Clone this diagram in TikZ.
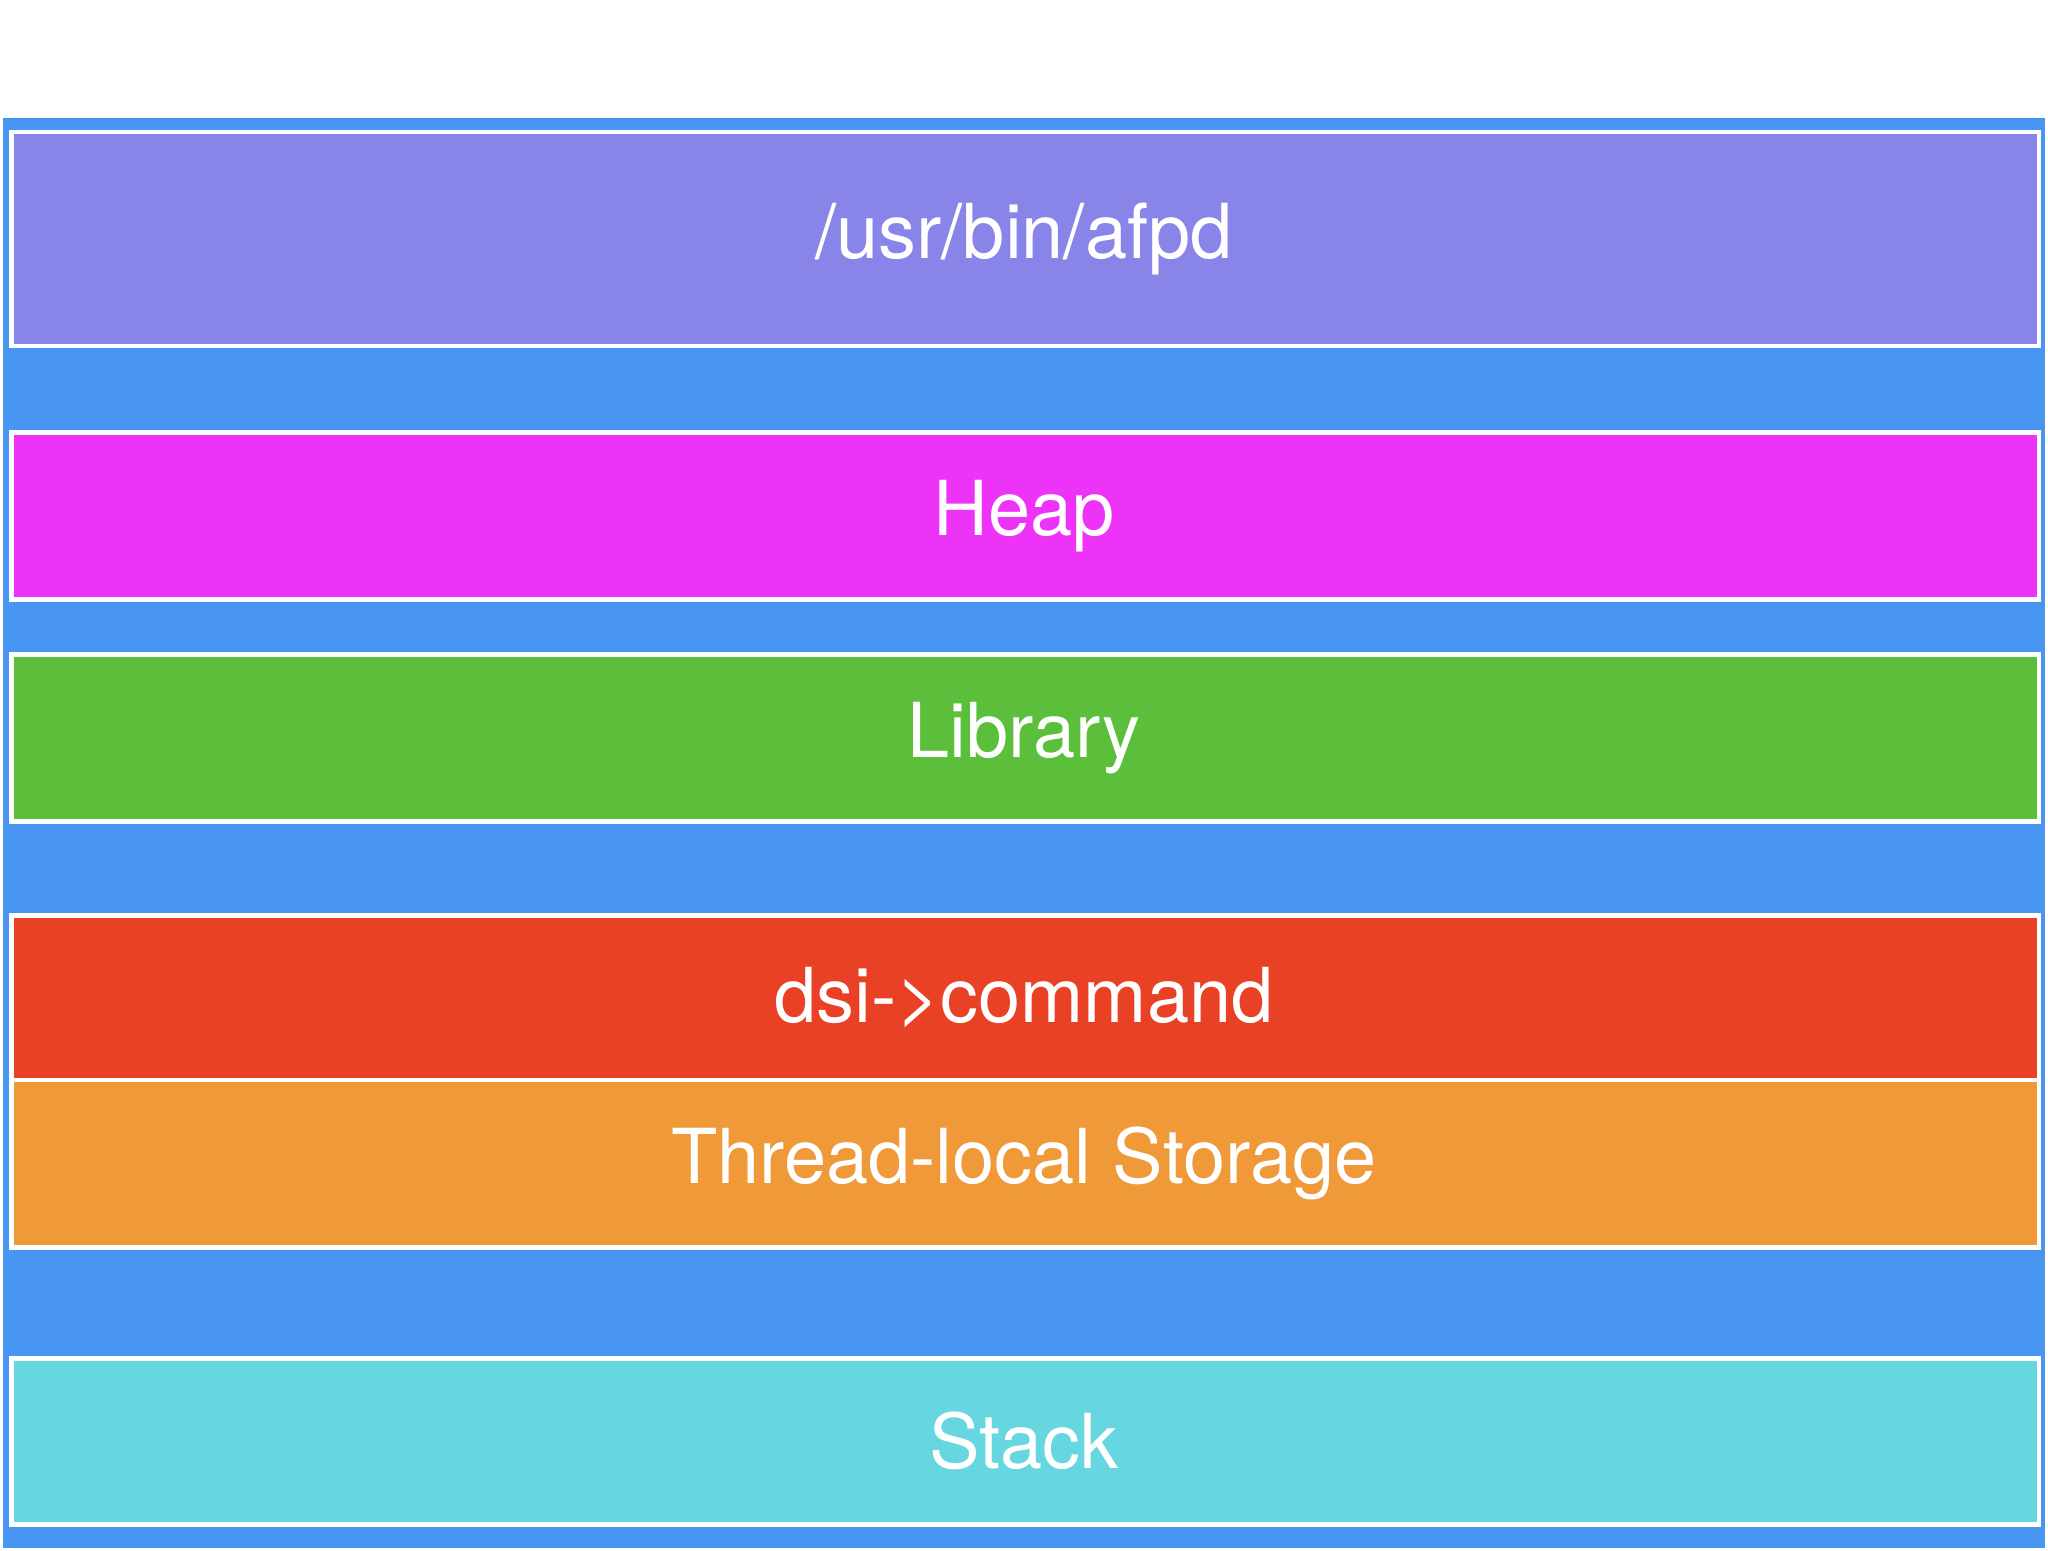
\documentclass[tikz,border=0pt]{standalone}
\usepackage{fontspec}
\setmainfont{TeX Gyre Heros}
\definecolor{bg}{HTML}{4896F2}
\definecolor{cA}{HTML}{8985E8}
\definecolor{cB}{HTML}{EE33F8}
\definecolor{cC}{HTML}{5CBF3B}
\definecolor{cD}{HTML}{E94125}
\definecolor{cE}{HTML}{EF9938}
\definecolor{cF}{HTML}{66D7E0}
\begin{document}
\begin{tikzpicture}[x=0.01cm,y=-0.01cm,
  seg/.style={draw=white,line width=1pt,text=white,font=\fontsize{16.5}{20}\selectfont}]
\useasboundingbox (0,0) rectangle (1568,1187);
\fill[bg] (2,90) rectangle (1566,1185);
\newcommand\seg[5]{\draw[seg,fill=#4] (9,#2) rectangle (1561,#3);
  \node[text=white,font=\fontsize{16.5}{20}\selectfont] (#1) at (784,{(#2+#3)/2}) {#5};}
\seg{afpd}{101}{265}{cA}{/usr/bin/afpd}
\seg{heap}{331}{459}{cB}{Heap}
\seg{lib}{501}{629}{cC}{Library}
\seg{dsi}{701}{827}{cD}{dsi->command}
\seg{tls}{827}{955}{cE}{Thread-local Storage}
\seg{stack}{1040}{1167}{cF}{Stack}
\end{tikzpicture}
\end{document}
